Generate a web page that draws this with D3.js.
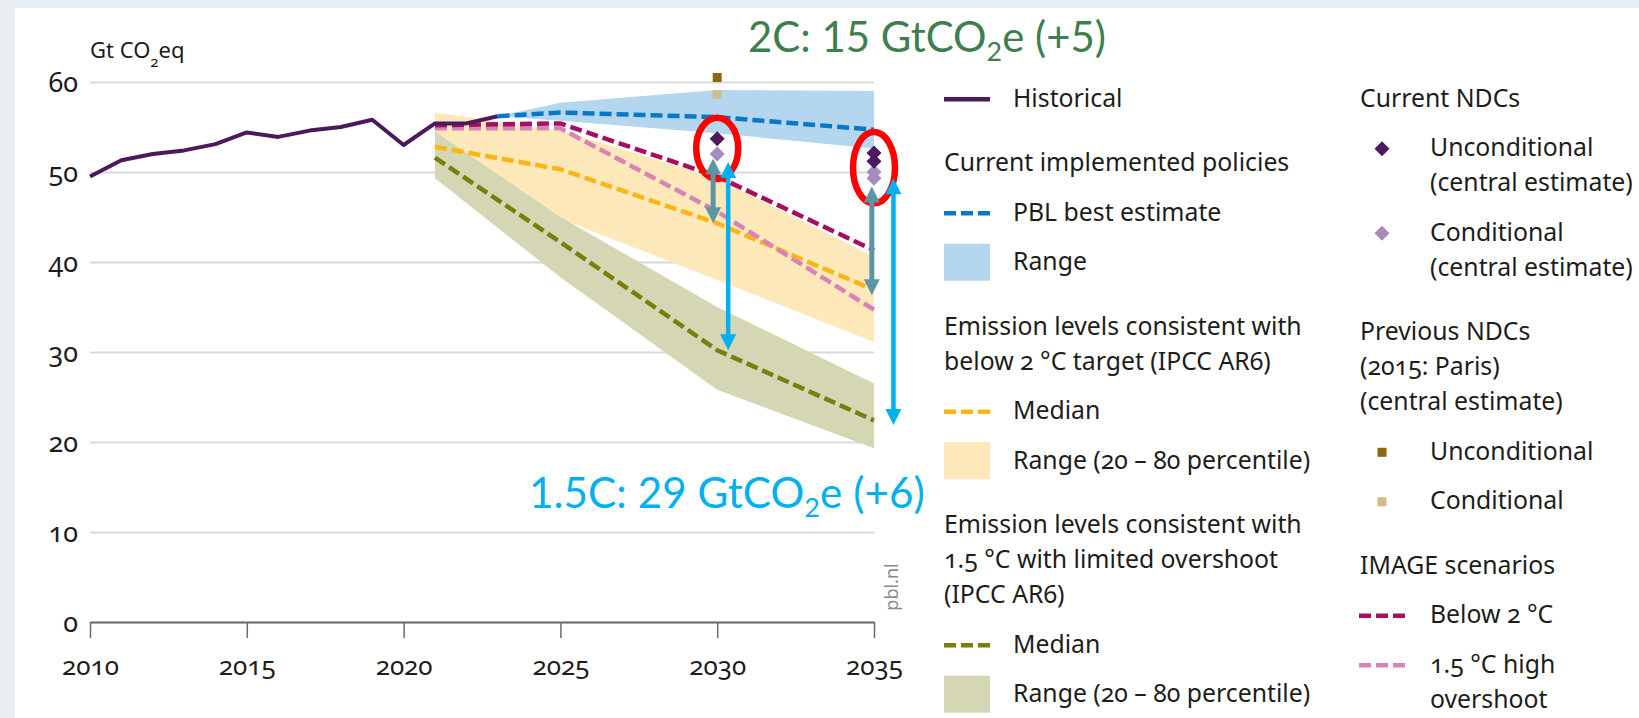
<!DOCTYPE html>
<html>
<head>
<meta charset="utf-8">
<script src="https://cdn.jsdelivr.net/npm/d3@7/dist/d3.min.js"></script>
<style>
  html, body { margin: 0; padding: 0; background: #e9eef2; }
  svg { display: block; }
  text { font-family: "Noto Sans", sans-serif; font-feature-settings: "onum" 1; fill: #1d1d1b; }
</style>
</head>
<body>
<svg id="chart" width="1639" height="718"></svg>
<script>
// ---- data (Gt CO2eq) ----
const histYears = d3.range(2010, 2024);
const historical = [49.5, 51.3, 52.0, 52.4, 53.1, 54.4, 53.9, 54.6, 55.0, 55.8, 53.0, 55.4, 55.4, 56.2];

// current implemented policies (PBL)
const cpYears = [2023, 2025, 2030, 2035];
const cpBest = [56.2, 56.6, 56.1, 54.7];
const cpLow = [56.2, 55.7, 54.3, 52.6];
const cpHigh = [56.2, 57.7, 59.1, 59.0];

// IPCC AR6 pathways
const ipccYears = [2021, 2025, 2030, 2035];
const below2Median = [52.8, 50.3, 44.3, 36.9];
const below2Low = [50.0, 44.8, 38.0, 31.1];
const below2High = [56.6, 54.6, 49.3, 40.6];
const lim15Median = [51.6, 42.2, 30.2, 22.4];
const lim15Low = [49.3, 38.3, 25.8, 19.3];
const lim15High = [54.5, 45.0, 35.0, 26.5];

// IMAGE scenarios
const imageYears = [2021, 2025, 2030, 2035];
const imageBelow2 = [55.2, 55.4, 49.5, 41.3];
const imageHigh15 = [54.85, 54.85, 45.6, 34.7];

// NDC markers
const ndcUncond = [{ year: 2030, val: 53.7 }, { year: 2035, val: 52.1 }, { year: 2035, val: 51.2 }];
const ndcCond = [{ year: 2030, val: 52.0 }, { year: 2035, val: 50.0 }, { year: 2035, val: 49.3 }];
const prevUncond = [{ year: 2030, val: 60.5 }];
const prevCond = [{ year: 2030, val: 58.6 }];

// gap arrows
const gapArrows = [
  { year: 2029.87, from: 51.5, to: 44.3, kind: "2C" },
  { year: 2030.35, from: 51.1, to: 30.2, kind: "15C" },
  { year: 2034.93, from: 48.4, to: 36.3, kind: "2C" },
  { year: 2035.62, from: 49.3, to: 21.9, kind: "15C" }
];

const xTicks = [2010, 2015, 2020, 2025, 2030, 2035];
const yTicks = [0, 10, 20, 30, 40, 50, 60];

const colors = {
  historical: "#4a1a5c",
  cpBest: "#0a78c6",
  cpRange: "#b4d6ee",
  b2Median: "#fdb515",
  b2Range: "#fde8b9",
  l15Median: "#7b7d0c",
  l15Range: "#d5d7b4",
  imgB2: "#a50f63",
  img15: "#d783b6",
  ndcU: "#4b1a5f",
  ndcC: "#a68cba",
  prevU: "#8d6712",
  prevC: "#d0bc8a",
  arrow2C: "#5e95a5",
  arrow15C: "#00b0f0"
};

const legendCol1 = [
  { type: "line", key: "historical", lines: ["Historical"] },
  { type: "header", lines: ["Current implemented policies"] },
  { type: "dash", key: "cpBest", lines: ["PBL best estimate"] },
  { type: "box", key: "cpRange", lines: ["Range"] },
  { type: "header", lines: ["Emission levels consistent with", "below 2 °C target (IPCC AR6)"] },
  { type: "dash", key: "b2Median", lines: ["Median"] },
  { type: "box", key: "b2Range", lines: ["Range (20 – 80 percentile)"] },
  { type: "header", lines: ["Emission levels consistent with", "1.5 °C with limited overshoot", "(IPCC AR6)"] },
  { type: "dash", key: "l15Median", lines: ["Median"] },
  { type: "box", key: "l15Range", lines: ["Range (20 – 80 percentile)"] }
];
const legendCol2 = [
  { type: "header", lines: ["Current NDCs"] },
  { type: "diamond", key: "ndcU", lines: ["Unconditional", "(central estimate)"] },
  { type: "diamond", key: "ndcC", lines: ["Conditional", "(central estimate)"] },
  { type: "header", lines: ["Previous NDCs", "(2015: Paris)", "(central estimate)"] },
  { type: "square", key: "prevU", lines: ["Unconditional"] },
  { type: "square", key: "prevC", lines: ["Conditional"] },
  { type: "header", lines: ["IMAGE scenarios"] },
  { type: "dash", key: "imgB2", lines: ["Below 2 °C"] },
  { type: "dash", key: "img15", lines: ["1.5 °C high", "overshoot"] }
];

// ---- setup ----
const W = 1639, H = 718;
const svg = d3.select("#chart");
svg.append("rect").attr("x", 15).attr("y", 8).attr("width", W - 15).attr("height", H - 8).attr("fill", "#fff");

const x = d3.scaleLinear().domain([2010, 2035]).range([90, 874]);
const y = d3.scaleLinear().domain([0, 60]).range([622, 82]);

const zip = (years, ...cols) => years.map((yr, i) => ({ year: yr, v: cols.map(c => c[i]) }));

// grid + y axis
const yAxis = svg.append("g")
  .attr("transform", "translate(90,0)")
  .call(d3.axisLeft(y).tickValues(yTicks).tickSize(-(874 - 90)).tickPadding(12).tickFormat(d3.format("d")));
yAxis.attr("font-size", 27).attr("font-family", null);
yAxis.select(".domain").remove();
yAxis.selectAll(".tick line").attr("stroke", "#d9d9d9").attr("stroke-width", 1.8);
yAxis.selectAll(".tick text").attr("dy", "0.36em");

// bands
const area = d3.area().x(d => x(d.year)).y0(d => y(d.v[0])).y1(d => y(d.v[1]));
svg.append("path").datum(zip(cpYears, cpLow, cpHigh)).attr("d", area).attr("fill", colors.cpRange);
svg.append("path").datum(zip(ipccYears, below2Low, below2High)).attr("d", area).attr("fill", colors.b2Range);
svg.append("path").datum(zip(ipccYears, lim15Low, lim15High)).attr("d", area).attr("fill", colors.l15Range);

// x axis
const xAxis = svg.append("g")
  .attr("transform", "translate(0,622)")
  .call(d3.axisBottom(x).tickValues(xTicks).tickSize(16).tickSizeOuter(0).tickFormat(d3.format("d")));
xAxis.attr("font-size", 26).attr("font-family", null);
xAxis.select(".domain").attr("stroke", "#6b6b6b").attr("stroke-width", 2);
xAxis.selectAll(".tick line").attr("stroke", "#6b6b6b").attr("stroke-width", 1.5);
xAxis.selectAll(".tick text").attr("y", 53).attr("dy", 0);

// lines
const line = d3.line().x(d => x(d.year)).y(d => y(d.v[0]));
function drawLine(data, color, dashed) {
  svg.append("path").datum(data).attr("d", line)
    .attr("fill", "none").attr("stroke", color).attr("stroke-width", dashed ? 4.5 : 4)
    .attr("stroke-linejoin", "round")
    .attr("stroke-dasharray", dashed ? "12,5" : null);
}
drawLine(zip(ipccYears, below2Median), colors.b2Median, true);
drawLine(zip(ipccYears, lim15Median), colors.l15Median, true);
drawLine(zip(imageYears, imageHigh15), colors.img15, true);
drawLine(zip(imageYears, imageBelow2), colors.imgB2, true);
drawLine(zip(histYears, historical), colors.historical, false);
drawLine(zip(cpYears, cpBest), colors.cpBest, true);

// markers
const diamond = d3.symbol(d3.symbolSquare, 112);
const square = d3.symbol(d3.symbolSquare, 81);
function drawDiamonds(data, color) {
  svg.selectAll(null).data(data).enter().append("path")
    .attr("d", diamond)
    .attr("transform", d => `translate(${x(d.year)},${y(d.val)}) rotate(45)`)
    .attr("fill", color);
}
function drawSquares(data, color) {
  svg.selectAll(null).data(data).enter().append("path")
    .attr("d", square)
    .attr("transform", d => `translate(${x(d.year)},${y(d.val)})`)
    .attr("fill", color);
}
drawSquares(prevUncond, colors.prevU);
drawSquares(prevCond, colors.prevC);
drawDiamonds(ndcCond, colors.ndcC);
drawDiamonds(ndcUncond, colors.ndcU);

// red ellipses around NDC markers
const ndcAll = ndcUncond.concat(ndcCond);
d3.groups(ndcAll, d => d.year).forEach(([yr, pts]) => {
  const hi = d3.max(pts, p => p.val), lo = d3.min(pts, p => p.val);
  const cy = (y(hi) + y(lo)) / 2 + 2;
  svg.append("ellipse")
    .attr("cx", x(yr)).attr("cy", cy)
    .attr("rx", 21).attr("ry", (y(lo) - y(hi)) / 2 + 23)
    .attr("fill", "none").attr("stroke", "#ff0000").attr("stroke-width", 6.5);
});

// double arrows
function drawArrow(d) {
  const color = d.kind === "2C" ? colors.arrow2C : colors.arrow15C;
  const xp = x(d.year), y1 = y(d.from), y2 = y(d.to);
  const hw = 8, hl = 16;
  const g = svg.append("g").attr("fill", color);
  g.append("line").attr("x1", xp).attr("x2", xp).attr("y1", y1 + hl - 1).attr("y2", y2 - hl + 1)
    .attr("stroke", color).attr("stroke-width", d.kind === "2C" ? 5 : 4.5);
  g.append("path").attr("d", `M${xp},${y1}L${xp - hw},${y1 + hl}L${xp + hw},${y1 + hl}Z`);
  g.append("path").attr("d", `M${xp},${y2}L${xp - hw},${y2 - hl}L${xp + hw},${y2 - hl}Z`);
}
gapArrows.forEach(drawArrow);

// y unit label
const unit = svg.append("text").attr("x", 90).attr("y", 58).attr("font-size", 22);
unit.append("tspan").text("Gt CO");
unit.append("tspan").attr("font-size", 15).attr("dy", 9).text("2");
unit.append("tspan").attr("dy", -9).text("eq");

// source
svg.append("text")
  .attr("transform", "translate(898,587) rotate(-90)")
  .attr("text-anchor", "middle").attr("font-size", 18)
  .style("fill", "#8a8a8a")
  .text("pbl.nl");

// big annotations: cap height matched, then squeezed to the reference width
function co2Label(x0, yb, pre, post, color, targetW) {
  const fs = 43;
  const t = svg.append("text").attr("x", 0).attr("y", 0).attr("font-size", fs)
    .style("font-family", "Lato, sans-serif").style("font-feature-settings", "normal").style("fill", color);
  t.append("tspan").text(pre);
  t.append("tspan").attr("font-size", fs * 0.64).attr("dy", fs * 0.22).text("2");
  t.append("tspan").attr("dy", -fs * 0.22).text(post);
  const w = t.node().getComputedTextLength();
  t.attr("transform", `translate(${x0},${yb}) scale(${targetW / w},1)`);
}
co2Label(748, 52, "2C: 15 GtCO", "e (+5)", "#3e7e50", 358);
co2Label(529, 508, "1.5C: 29 GtCO", "e (+6)", "#00b0f0", 396);

// legend
function drawLegend(items, headerX, swatchX, swatchW, textX) {
  let yb = 106.7;
  items.forEach((it, idx) => {
    if (idx > 0) yb += it.type === "header" ? 64.5 : 49.5;
    const g = svg.append("g");
    it.lines.forEach((ln, i) => {
      g.append("text").attr("x", it.type === "header" ? headerX : textX)
        .attr("y", yb + i * 35).attr("font-size", 24.8).text(ln);
    });
    const cy = yb - 7.4;
    const c = colors[it.key];
    if (it.type === "line" || it.type === "dash") {
      g.append("line").attr("x1", swatchX).attr("x2", swatchX + swatchW).attr("y1", cy).attr("y2", cy)
        .attr("stroke", c).attr("stroke-width", 4.5)
        .attr("stroke-dasharray", it.type === "dash" ? "12,5" : null);
    } else if (it.type === "box") {
      g.append("rect").attr("x", swatchX).attr("y", yb - 26.5).attr("width", swatchW).attr("height", 37).attr("fill", c);
    } else if (it.type === "diamond") {
      g.append("path").attr("d", diamond).attr("transform", `translate(${swatchX + swatchW / 2},${cy}) rotate(45)`).attr("fill", c);
    } else if (it.type === "square") {
      g.append("path").attr("d", square).attr("transform", `translate(${swatchX + swatchW / 2},${cy})`).attr("fill", c);
    }
    yb += (it.lines.length - 1) * 35;
  });
}
drawLegend(legendCol1, 944, 944, 46, 1013);
drawLegend(legendCol2, 1360, 1359, 46, 1430);
</script>
</body>
</html>
